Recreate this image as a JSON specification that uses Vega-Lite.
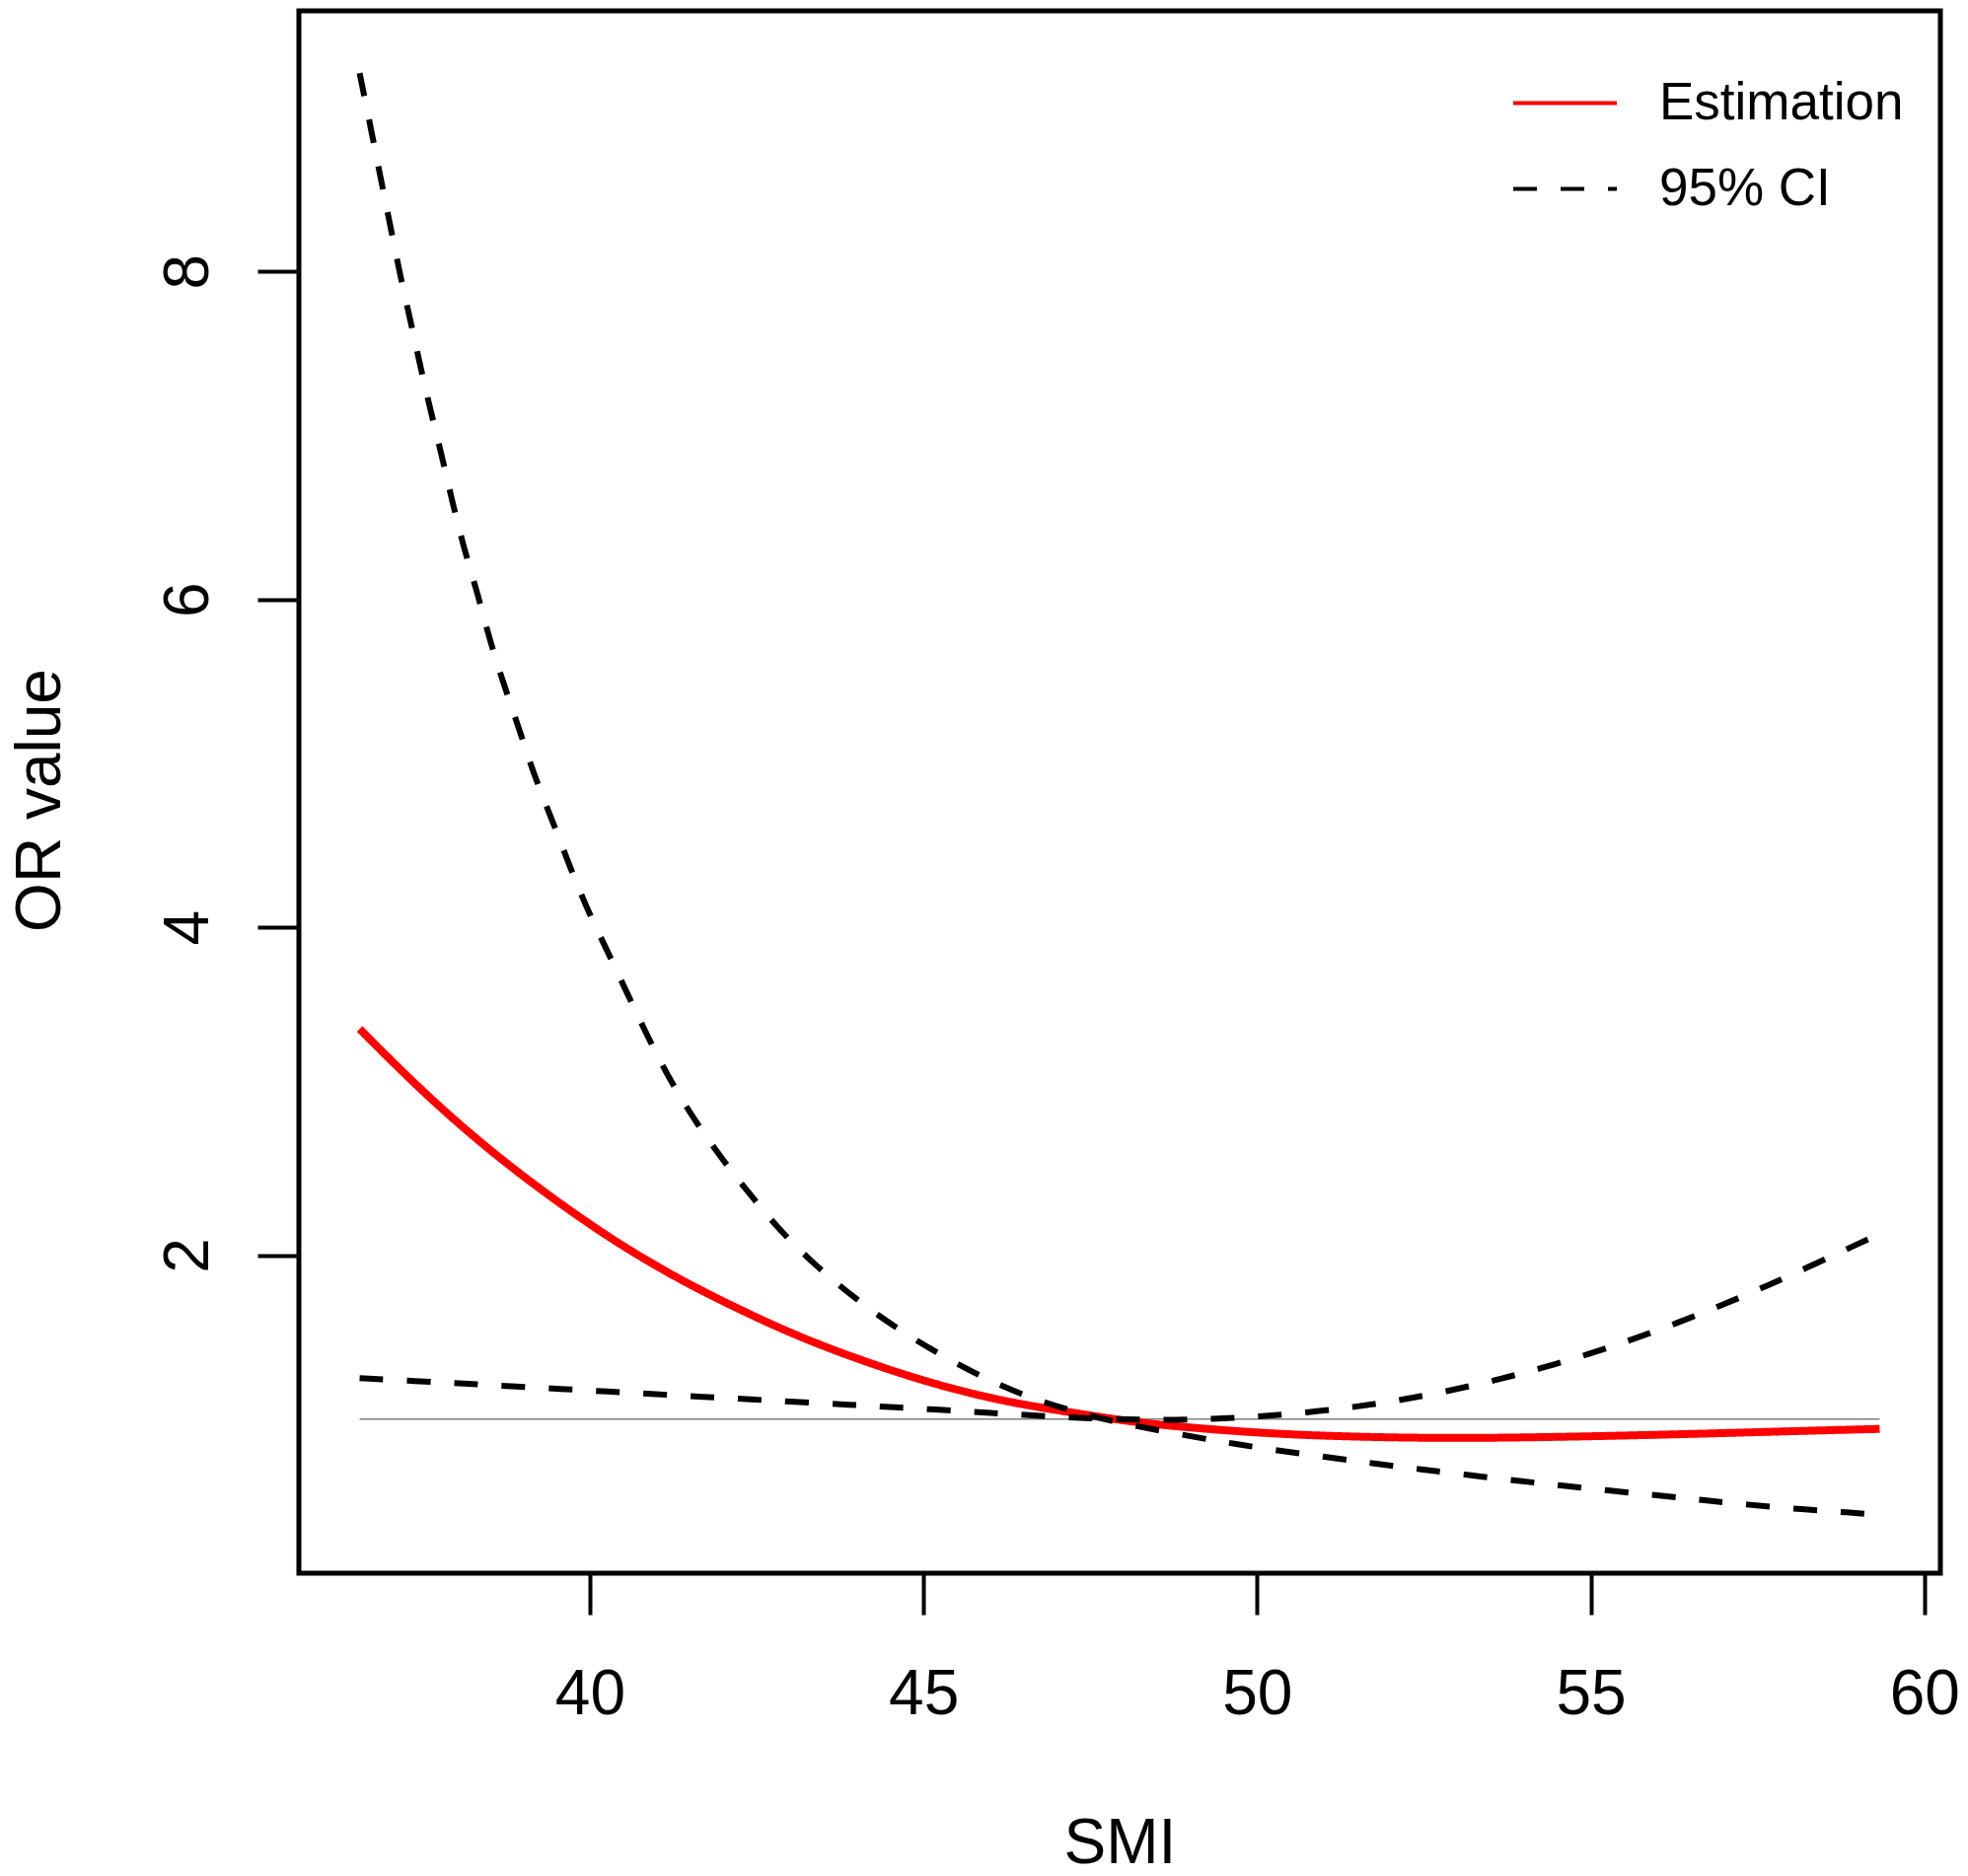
{
  "$schema": "https://vega.github.io/schema/vega-lite/v6.json",
  "width": 1664,
  "height": 1584,
  "autosize": {"type": "none"},
  "padding": {"left": 303, "top": 11, "right": 28, "bottom": 307},
  "background": "white",
  "encoding": {
    "x": {
      "field": "smi",
      "type": "quantitative",
      "scale": {"domain": [35.64, 60.24], "nice": false, "zero": false},
      "axis": {
        "title": "SMI",
        "values": [40, 45, 50, 55, 60],
        "labelBaseline": "alphabetic",
        "labelPadding": 100,
        "labelFlush": false,
        "labelOverlap": false,
        "titleY": 293,
        "titleBaseline": "alphabetic"
      }
    },
    "y": {
      "field": "or",
      "type": "quantitative",
      "scale": {"domain": [0.06, 9.59], "nice": false, "zero": false},
      "axis": {
        "title": "OR value",
        "values": [2, 4, 6, 8],
        "labelAngle": -90,
        "labelAlign": "center",
        "labelBaseline": "alphabetic",
        "labelPadding": 51,
        "labelFlush": false,
        "labelOverlap": false,
        "titleAngle": -90,
        "titleAlign": "center",
        "titleBaseline": "alphabetic",
        "titleX": -243,
        "titleY": 800
      }
    }
  },
  "layer": [
    {
      "data": {"values": [{"smi": 36.55, "smi2": 59.33, "or": 1}]},
      "mark": {"type": "rule", "color": "#808080", "strokeWidth": 1.5},
      "encoding": {"x2": {"field": "smi2"}}
    },
    {
      "data": {
        "values": [
          {"smi": 36.55, "or": 3.38, "series": "Estimation", "curve": "est"},
          {"smi": 37.48, "or": 3.0, "series": "Estimation", "curve": "est"},
          {"smi": 38.46, "or": 2.65, "series": "Estimation", "curve": "est"},
          {"smi": 39.36, "or": 2.37, "series": "Estimation", "curve": "est"},
          {"smi": 40.27, "or": 2.11, "series": "Estimation", "curve": "est"},
          {"smi": 41.25, "or": 1.87, "series": "Estimation", "curve": "est"},
          {"smi": 42.23, "or": 1.67, "series": "Estimation", "curve": "est"},
          {"smi": 43.14, "or": 1.5, "series": "Estimation", "curve": "est"},
          {"smi": 44.12, "or": 1.35, "series": "Estimation", "curve": "est"},
          {"smi": 45.1, "or": 1.22, "series": "Estimation", "curve": "est"},
          {"smi": 46.16, "or": 1.11, "series": "Estimation", "curve": "est"},
          {"smi": 47.22, "or": 1.04, "series": "Estimation", "curve": "est"},
          {"smi": 48.0, "or": 0.99, "series": "Estimation", "curve": "est"},
          {"smi": 48.77, "or": 0.955, "series": "Estimation", "curve": "est"},
          {"smi": 50.18, "or": 0.91, "series": "Estimation", "curve": "est"},
          {"smi": 51.58, "or": 0.89, "series": "Estimation", "curve": "est"},
          {"smi": 52.99, "or": 0.883, "series": "Estimation", "curve": "est"},
          {"smi": 54.41, "or": 0.89, "series": "Estimation", "curve": "est"},
          {"smi": 55.81, "or": 0.902, "series": "Estimation", "curve": "est"},
          {"smi": 57.22, "or": 0.917, "series": "Estimation", "curve": "est"},
          {"smi": 58.17, "or": 0.928, "series": "Estimation", "curve": "est"},
          {"smi": 59.33, "or": 0.94, "series": "Estimation", "curve": "est"},

          {"smi": 36.55, "or": 9.21, "series": "95% CI", "curve": "a"},
          {"smi": 36.72, "or": 8.87, "series": "95% CI", "curve": "a"},
          {"smi": 36.87, "or": 8.56, "series": "95% CI", "curve": "a"},
          {"smi": 36.99, "or": 8.32, "series": "95% CI", "curve": "a"},
          {"smi": 37.14, "or": 8.01, "series": "95% CI", "curve": "a"},
          {"smi": 37.29, "or": 7.74, "series": "95% CI", "curve": "a"},
          {"smi": 37.44, "or": 7.46, "series": "95% CI", "curve": "a"},
          {"smi": 37.59, "or": 7.19, "series": "95% CI", "curve": "a"},
          {"smi": 37.78, "or": 6.88, "series": "95% CI", "curve": "a"},
          {"smi": 37.93, "or": 6.61, "series": "95% CI", "curve": "a"},
          {"smi": 38.12, "or": 6.3, "series": "95% CI", "curve": "a"},
          {"smi": 38.31, "or": 6.05, "series": "95% CI", "curve": "a"},
          {"smi": 38.5, "or": 5.75, "series": "95% CI", "curve": "a"},
          {"smi": 38.72, "or": 5.47, "series": "95% CI", "curve": "a"},
          {"smi": 38.95, "or": 5.2, "series": "95% CI", "curve": "a"},
          {"smi": 39.17, "or": 4.92, "series": "95% CI", "curve": "a"},
          {"smi": 39.44, "or": 4.65, "series": "95% CI", "curve": "a"},
          {"smi": 39.7, "or": 4.37, "series": "95% CI", "curve": "a"},
          {"smi": 39.97, "or": 4.1, "series": "95% CI", "curve": "a"},
          {"smi": 40.27, "or": 3.85, "series": "95% CI", "curve": "a"},
          {"smi": 40.58, "or": 3.58, "series": "95% CI", "curve": "a"},
          {"smi": 40.87, "or": 3.33, "series": "95% CI", "curve": "a"},
          {"smi": 41.21, "or": 3.06, "series": "95% CI", "curve": "a"},
          {"smi": 41.59, "or": 2.81, "series": "95% CI", "curve": "a"},
          {"smi": 42.01, "or": 2.57, "series": "95% CI", "curve": "a"},
          {"smi": 42.42, "or": 2.36, "series": "95% CI", "curve": "a"},
          {"smi": 42.87, "or": 2.14, "series": "95% CI", "curve": "a"},
          {"smi": 43.4, "or": 1.93, "series": "95% CI", "curve": "a"},
          {"smi": 43.96, "or": 1.74, "series": "95% CI", "curve": "a"},
          {"smi": 44.57, "or": 1.56, "series": "95% CI", "curve": "a"},
          {"smi": 45.18, "or": 1.41, "series": "95% CI", "curve": "a"},
          {"smi": 45.81, "or": 1.27, "series": "95% CI", "curve": "a"},
          {"smi": 46.46, "or": 1.15, "series": "95% CI", "curve": "a"},
          {"smi": 47.13, "or": 1.06, "series": "95% CI", "curve": "a"},
          {"smi": 47.7, "or": 1.0, "series": "95% CI", "curve": "a"},
          {"smi": 48.1, "or": 0.965, "series": "95% CI", "curve": "a"},
          {"smi": 48.86, "or": 0.905, "series": "95% CI", "curve": "a"},
          {"smi": 49.57, "or": 0.855, "series": "95% CI", "curve": "a"},
          {"smi": 50.27, "or": 0.81, "series": "95% CI", "curve": "a"},
          {"smi": 51.02, "or": 0.77, "series": "95% CI", "curve": "a"},
          {"smi": 51.73, "or": 0.73, "series": "95% CI", "curve": "a"},
          {"smi": 52.43, "or": 0.695, "series": "95% CI", "curve": "a"},
          {"smi": 53.14, "or": 0.66, "series": "95% CI", "curve": "a"},
          {"smi": 53.89, "or": 0.625, "series": "95% CI", "curve": "a"},
          {"smi": 54.54, "or": 0.595, "series": "95% CI", "curve": "a"},
          {"smi": 55.25, "or": 0.565, "series": "95% CI", "curve": "a"},
          {"smi": 56.0, "or": 0.535, "series": "95% CI", "curve": "a"},
          {"smi": 56.7, "or": 0.505, "series": "95% CI", "curve": "a"},
          {"smi": 57.41, "or": 0.475, "series": "95% CI", "curve": "a"},
          {"smi": 58.17, "or": 0.45, "series": "95% CI", "curve": "a"},
          {"smi": 58.88, "or": 0.43, "series": "95% CI", "curve": "a"},
          {"smi": 59.33, "or": 0.415, "series": "95% CI", "curve": "a"},

          {"smi": 36.55, "or": 1.25, "series": "95% CI", "curve": "b"},
          {"smi": 37.4, "or": 1.232, "series": "95% CI", "curve": "b"},
          {"smi": 38.12, "or": 1.216, "series": "95% CI", "curve": "b"},
          {"smi": 38.83, "or": 1.2, "series": "95% CI", "curve": "b"},
          {"smi": 39.56, "or": 1.184, "series": "95% CI", "curve": "b"},
          {"smi": 40.27, "or": 1.168, "series": "95% CI", "curve": "b"},
          {"smi": 40.99, "or": 1.152, "series": "95% CI", "curve": "b"},
          {"smi": 41.7, "or": 1.136, "series": "95% CI", "curve": "b"},
          {"smi": 42.42, "or": 1.12, "series": "95% CI", "curve": "b"},
          {"smi": 43.14, "or": 1.104, "series": "95% CI", "curve": "b"},
          {"smi": 43.89, "or": 1.088, "series": "95% CI", "curve": "b"},
          {"smi": 44.57, "or": 1.072, "series": "95% CI", "curve": "b"},
          {"smi": 45.3, "or": 1.055, "series": "95% CI", "curve": "b"},
          {"smi": 46.01, "or": 1.038, "series": "95% CI", "curve": "b"},
          {"smi": 46.72, "or": 1.02, "series": "95% CI", "curve": "b"},
          {"smi": 47.7, "or": 1.0, "series": "95% CI", "curve": "b"},
          {"smi": 48.62, "or": 0.993, "series": "95% CI", "curve": "b"},
          {"smi": 49.33, "or": 1.0, "series": "95% CI", "curve": "b"},
          {"smi": 50.03, "or": 1.015, "series": "95% CI", "curve": "b"},
          {"smi": 50.74, "or": 1.04, "series": "95% CI", "curve": "b"},
          {"smi": 51.45, "or": 1.073, "series": "95% CI", "curve": "b"},
          {"smi": 52.15, "or": 1.115, "series": "95% CI", "curve": "b"},
          {"smi": 52.85, "or": 1.17, "series": "95% CI", "curve": "b"},
          {"smi": 53.56, "or": 1.235, "series": "95% CI", "curve": "b"},
          {"smi": 54.26, "or": 1.31, "series": "95% CI", "curve": "b"},
          {"smi": 54.97, "or": 1.395, "series": "95% CI", "curve": "b"},
          {"smi": 55.62, "or": 1.485, "series": "95% CI", "curve": "b"},
          {"smi": 56.29, "or": 1.585, "series": "95% CI", "curve": "b"},
          {"smi": 56.94, "or": 1.69, "series": "95% CI", "curve": "b"},
          {"smi": 57.6, "or": 1.805, "series": "95% CI", "curve": "b"},
          {"smi": 58.25, "or": 1.925, "series": "95% CI", "curve": "b"},
          {"smi": 58.96, "or": 2.06, "series": "95% CI", "curve": "b"},
          {"smi": 59.33, "or": 2.13, "series": "95% CI", "curve": "b"}
        ]
      },
      "mark": {"type": "line", "interpolate": "basis", "strokeCap": "butt", "strokeJoin": "round"},
      "encoding": {
        "detail": {"field": "curve"},
        "color": {
          "field": "series",
          "type": "nominal",
          "scale": {"domain": ["Estimation", "95% CI"], "range": ["#FF0000", "#000000"]},
          "legend": {
            "orient": "none",
            "legendX": 1229,
            "legendY": 39,
            "title": null,
            "padding": 0,
            "symbolType": "stroke",
            "symbolSize": 11025,
            "symbolStrokeWidth": 4,
            "labelFontSize": 53,
            "labelColor": "black",
            "labelOffset": 41,
            "labelLimit": 600,
            "rowPadding": 5
          }
        },
        "strokeDash": {
          "field": "series",
          "type": "nominal",
          "scale": {"domain": ["Estimation", "95% CI"], "range": [[1, 0], [24, 24]]},
          "legend": {
            "orient": "none",
            "legendX": 1229,
            "legendY": 39,
            "title": null,
            "padding": 0,
            "symbolType": "stroke",
            "symbolSize": 11025,
            "symbolStrokeWidth": 4,
            "labelFontSize": 53,
            "labelColor": "black",
            "labelOffset": 41,
            "labelLimit": 600,
            "rowPadding": 5
          }
        },
        "strokeWidth": {
          "condition": {"test": "datum.series === 'Estimation'", "value": 8},
          "value": 6
        }
      }
    }
  ],
  "config": {
    "font": "Liberation Sans",
    "view": {"stroke": "black", "strokeWidth": 5},
    "axis": {
      "domain": false,
      "grid": false,
      "tickColor": "black",
      "tickWidth": 4,
      "tickSize": 42,
      "labelColor": "black",
      "labelFontSize": 64,
      "labelFont": "Liberation Sans",
      "titleFont": "Liberation Sans",
      "titleFontSize": 64,
      "titleFontWeight": "normal",
      "titleColor": "black"
    },
    "legend": {"labelFont": "Liberation Sans"}
  }
}
